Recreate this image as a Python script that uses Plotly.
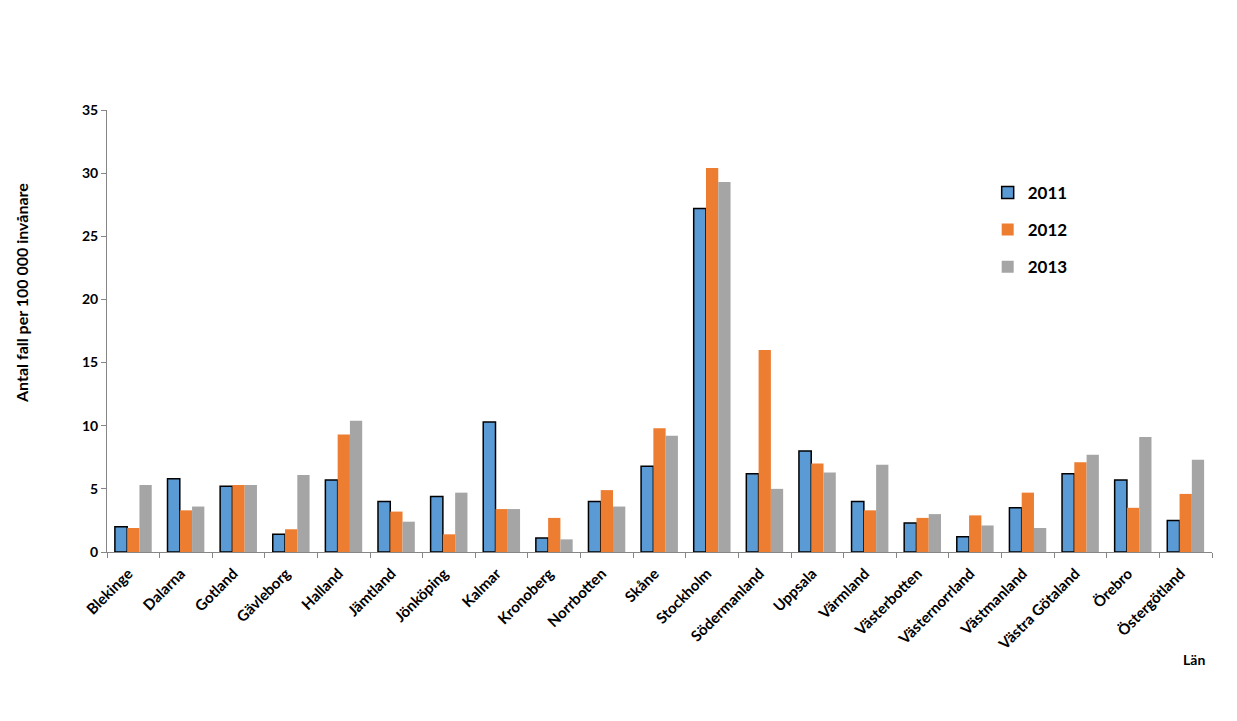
import plotly.graph_objects as go

categories = ["Blekinge", "Dalarna", "Gotland", "Gävleborg", "Halland", "Jämtland",
              "Jönköping", "Kalmar", "Kronoberg", "Norrbotten", "Skåne", "Stockholm",
              "Södermanland", "Uppsala", "Värmland", "Västerbotten", "Västernorrland",
              "Västmanland", "Västra Götaland", "Örebro", "Östergötland"]

values_2011 = [2.0, 5.8, 5.2, 1.4, 5.7, 4.0, 4.4, 10.3, 1.1, 4.0, 6.8, 27.2,
               6.2, 8.0, 4.0, 2.3, 1.2, 3.5, 6.2, 5.7, 2.5]
values_2012 = [1.9, 3.3, 5.3, 1.8, 9.3, 3.2, 1.4, 3.4, 2.7, 4.9, 9.8, 30.4,
               16.0, 7.0, 3.3, 2.7, 2.9, 4.7, 7.1, 3.5, 4.6]
values_2013 = [5.3, 3.6, 5.3, 6.1, 10.4, 2.4, 4.7, 3.4, 1.0, 3.6, 9.2, 29.3,
               5.0, 6.3, 6.9, 3.0, 2.1, 1.9, 7.7, 9.1, 7.3]

y_ticks = [0, 5, 10, 15, 20, 25, 30, 35]

FONT = "Lato"

fig = go.Figure()
fig.add_trace(go.Bar(name="2011", x=categories, y=values_2011, legendgroup="a",
                     marker=dict(color="#5B9BD5", line=dict(color="#000000", width=1.5))))
fig.add_trace(go.Bar(name="2012", x=categories, y=values_2012, legendgroup="b",
                     marker=dict(color="#ED7D31", line=dict(width=0))))
fig.add_trace(go.Bar(name="2013", x=categories, y=values_2013, legendgroup="c",
                     marker=dict(color="#A5A5A5", line=dict(width=0))))

fig.update_layout(
    width=1237, height=721,
    barmode="group", bargap=0.3, bargroupgap=0,
    paper_bgcolor="white", plot_bgcolor="white",
    margin=dict(l=99, r=33, t=102, b=177),
    font=dict(family=FONT, size=14, color="black"),
    showlegend=True,
    legend=dict(x=0.797, y=0.853, xanchor="left", yanchor="top",
                font=dict(family=FONT, size=17, color="black", weight="bold"),
                tracegroupgap=12, bgcolor="rgba(0,0,0,0)"),
    xaxis=dict(showline=True, linecolor="#868686", linewidth=1,
               ticks="outside", tickson="boundaries", ticklen=5, tickcolor="#868686",
               tickangle=-45, showgrid=False, ticklabelstandoff=6, ticklabelshift=-5,
               tickfont=dict(family=FONT, size=15, color="black", weight="bold")),
    yaxis=dict(range=[0, 35], tickvals=y_ticks, showline=True, linecolor="#868686",
               linewidth=1, ticks="outside", ticklen=5, tickcolor="#868686",
               showgrid=False, zeroline=False,
               tickfont=dict(family=FONT, size=14, color="black", weight="bold")),
    annotations=[
        dict(text="Län", xref="paper", yref="paper", x=0.9955, y=-0.244,
             xanchor="right", yanchor="middle", showarrow=False,
             font=dict(family=FONT, size=14, color="black", weight="bold")),
        dict(text="Antal fall per 100 000 invånare", xref="paper", yref="paper",
             x=-0.0769, y=0.586, xanchor="center", yanchor="middle", textangle=-90,
             showarrow=False,
             font=dict(family=FONT, size=16, color="black", weight="bold")),
    ],
)

fig.write_html("out.html")
